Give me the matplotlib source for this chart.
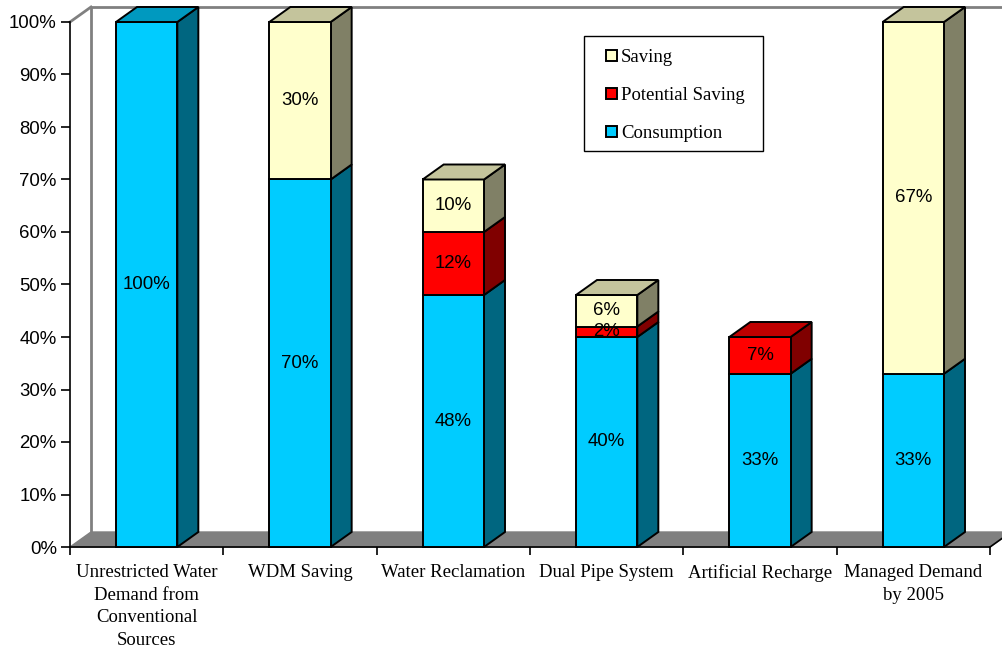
import matplotlib
matplotlib.use("Agg")
import matplotlib.pyplot as plt
from matplotlib.patches import Polygon, Rectangle

categories = [
    "Unrestricted Water\nDemand from\nConventional\nSources",
    "WDM Saving",
    "Water Reclamation",
    "Dual Pipe System",
    "Artificial Recharge",
    "Managed Demand\nby 2005",
]
consumption = [100, 70, 48, 40, 33, 33]
potential_saving = [0, 0, 12, 2, 7, 0]
saving = [0, 30, 10, 6, 0, 67]

# stacking order bottom -> top: (name, values, front, top, side)
series = [
    ("Consumption", consumption, "#00CCFF", "#0099BF", "#006680"),
    ("Potential Saving", potential_saving, "#FF0000", "#BF0000", "#800000"),
    ("Saving", saving, "#FFFFCC", "#C4C49C", "#808066"),
]

W, H = 1003, 649
fig = plt.figure(figsize=(W / 100, H / 100), dpi=100)
ax = fig.add_axes([70 / W, (H - 547) / H, 920 / W, 525 / H])
n = len(categories)
ax.set_xlim(0, n)
ax.set_ylim(0, 100)

# depth of the fake 3d in data units
dx = 21 / (920 / n)
dy = 15 / 5.25

sans = "Liberation Sans"
serif = "Liberation Serif"
grey = "#808080"

# floor and back wall
ax.add_patch(Polygon([(0, 0), (dx, dy), (n + dx, dy), (n, 0)], closed=True,
                     facecolor=grey, edgecolor=grey, lw=1, clip_on=False, zorder=1))
ax.plot([dx, dx, n + dx + 1], [dy, 100 + dy, 100 + dy], color=grey, lw=2,
        clip_on=False, zorder=1, solid_capstyle="butt")
ax.plot([0, dx], [100, 100 + dy], color=grey, lw=2, clip_on=False, zorder=1)
ax.plot([n, n + dx], [0, dy], color="black", lw=1.2, clip_on=False, zorder=2)

bw = 0.4
lw = 1.4
for i in range(n):
    x0 = i + 0.5 - bw / 2
    x1 = x0 + bw
    bottom = 0
    segs = [(s, s[1][i]) for s in series if s[1][i] > 0]
    for k, ((name, vals, front, top, side), v) in enumerate(segs):
        t = bottom + v
        ax.add_patch(Polygon([(x1, bottom), (x1 + dx, bottom + dy), (x1 + dx, t + dy), (x1, t)],
                             closed=True, facecolor=side, edgecolor="black", lw=lw,
                             clip_on=False, zorder=3, joinstyle="miter"))
        ax.add_patch(Polygon([(x0, bottom), (x1, bottom), (x1, t), (x0, t)],
                             closed=True, facecolor=front, edgecolor="black", lw=lw,
                             clip_on=False, zorder=3, joinstyle="miter"))
        if k == len(segs) - 1:
            ax.add_patch(Polygon([(x0, t), (x0 + dx, t + dy), (x1 + dx, t + dy), (x1, t)],
                                 closed=True, facecolor=top, edgecolor="black", lw=lw,
                                 clip_on=False, zorder=3, joinstyle="miter"))
        ax.text(i + 0.5, bottom + v / 2, f"{v}%", ha="center", va="center",
                fontsize=13.4, family=sans, zorder=5)
        bottom = t

for s in ["top", "right"]:
    ax.spines[s].set_visible(False)
ax.spines["left"].set_linewidth(1.2)
ax.spines["bottom"].set_linewidth(1.2)
ax.spines["left"].set_zorder(2)
ax.spines["bottom"].set_zorder(2)

ax.set_yticks(range(0, 101, 10))
ax.set_yticklabels([f"{v}%" for v in range(0, 101, 10)], family=sans, fontsize=13.4)
ax.tick_params(axis="y", direction="out", length=6.5, width=1.2, pad=3)

ax.set_xticks(range(n + 1))
ax.set_xticklabels([])
ax.tick_params(axis="x", which="major", direction="out", length=6, width=1.2)
ax.set_xticks([i + 0.5 for i in range(n)], minor=True)
ax.set_xticklabels(categories, minor=True, family=serif, fontsize=13.5, linespacing=1.45)
ax.tick_params(axis="x", which="minor", length=0, pad=12)

# legend box, laid out in figure pixels (y from the top)
def px(x, y):
    return x / W, 1 - y / H

lx0, ly0, lx1, ly1 = 584, 36, 763, 151
fig.patches.append(Rectangle(px(lx0, ly1), (lx1 - lx0) / W, (ly1 - ly0) / H,
                             transform=fig.transFigure, facecolor="white",
                             edgecolor="black", lw=1.0, zorder=6))
for (name, vals, front, top, side), yc in zip(reversed(series), [55, 93, 131]):
    fig.patches.append(Rectangle(px(606, yc + 5.5), 11 / W, 11 / H, transform=fig.transFigure,
                                 facecolor=front, edgecolor="black", lw=1.4, zorder=7))
    fig.text(*px(621, yc), name, ha="left", va="center_baseline", family=serif,
             fontsize=13.5, zorder=7)

fig.savefig("out.png", dpi=100)
